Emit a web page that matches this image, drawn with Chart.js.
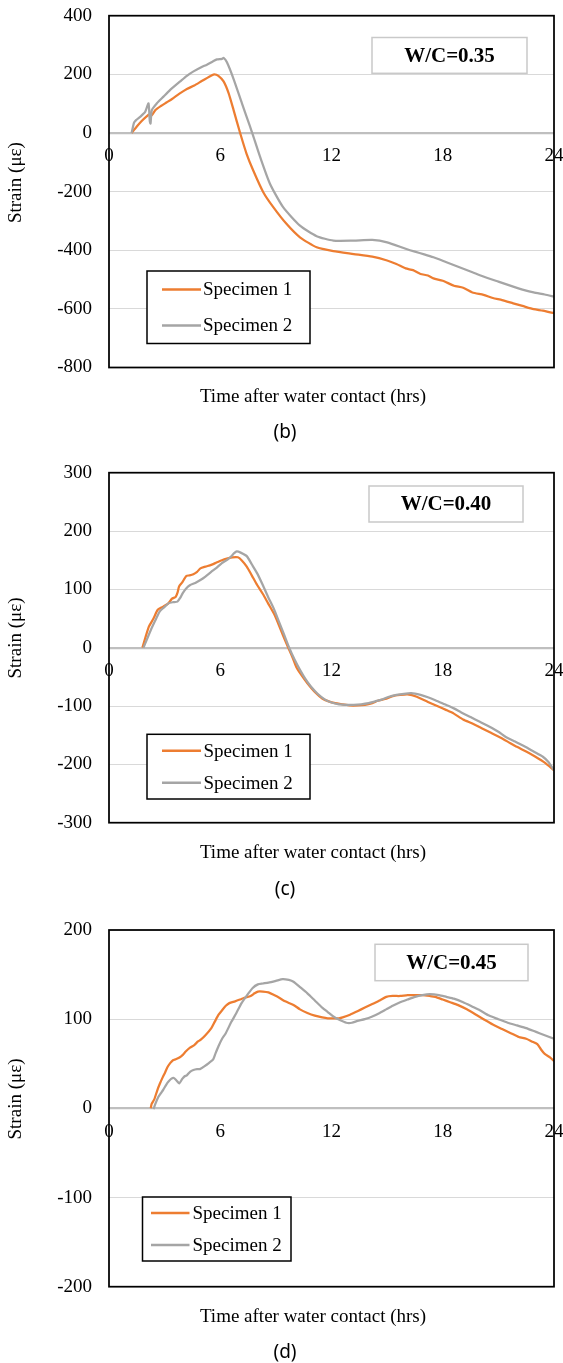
<!DOCTYPE html>
<html>
<head>
<meta charset="utf-8">
<script src="https://cdn.jsdelivr.net/npm/chart.js@4.4.0/dist/chart.umd.min.js"></script>
<style>
  html, body { margin: 0; padding: 0; background: #fff; width: 563px; height: 1363px; overflow: hidden; }
  .box { position: absolute; left: 0; width: 563px; }
  canvas { display: block; }
  .cap { position: absolute; left: 0; width: 570px; text-align: center; font-family: "Noto Sans", sans-serif; font-size: 19px; line-height: 24px; color: #000; }
</style>
</head>
<body>
<div class="box" style="top:0px;height:420px"><canvas id="cb" width="563" height="420"></canvas></div>
<div class="cap" style="top:419px">(b)</div>
<div class="box" style="top:455px;height:420px"><canvas id="cc" width="563" height="420"></canvas></div>
<div class="cap" style="top:876px">(c)</div>
<div class="box" style="top:912px;height:420px"><canvas id="cd" width="563" height="420"></canvas></div>
<div class="cap" style="top:1339px">(d)</div>
<script>
// ---------------- data ----------------
const seriesNames = ["Specimen 1", "Specimen 2"];
const xTickValues = [0, 6, 12, 18, 24];
const yTicksB = [-800, -600, -400, -200, 0, 200, 400];
const yTicksC = [-300, -200, -100, 0, 100, 200, 300];
const yTicksD = [-200, -100, 0, 100, 200];
const xTitle = "Time after water contact (hrs)";
const yTitle = "Strain (με)";
const wcLabels = ["W/C=0.35", "W/C=0.40", "W/C=0.45"];

// (b) W/C = 0.35
const timeB1 = [1.22,1.5,1.75,2.0,2.2,2.3,2.5,2.8,3.1,3.4,
  3.8,4.2,4.6,5.0,5.3,5.5,5.68,5.9,6.18,6.45,
  6.72,7.08,7.42,7.78,8.32,8.86,9.57,10.3,11.2,12.1,
  13.2,14.2,15.0,15.5,16.0,16.4,16.8,17.2,17.5,18.0,
  18.6,19.1,19.6,20.2,20.7,21.2,21.8,22.3,22.9,23.4,
  23.8,24];
const strainB1 = [0,22,40,55,64,60,78,92,104,116,
  134,150,162,177,188,195,200,195,176,136,
  78,-2,-71,-128,-202,-253,-310,-356,-390,-403,
  -413,-422,-435,-447,-462,-468,-481,-486,-496,-504,
  -521,-528,-544,-552,-563,-570,-581,-590,-601,-606,
  -612,-614];
const timeB2 = [1.22,1.35,1.46,1.68,1.95,2.13,2.2,2.24,2.31,2.58,
  2.94,3.3,3.84,4.2,4.56,5.0,5.28,5.6,5.82,6.1,
  6.18,6.36,6.72,7.17,7.6,7.75,8.14,8.68,9.39,10.3,
  11.2,12.1,13.2,14.2,15.0,16.0,16.5,17.0,17.5,18.2,
  18.9,19.6,20.3,21.0,21.8,22.4,22.9,23.5,24];
const strainB2 = [0,35,44,55,72,101,40,32,78,101,
  124,147,176,195,210,225,233,244,251,253,
  256,241,184,101,23,-5,-80,-173,-253,-316,
  -352,-367,-367,-365,-373,-395,-405,-414,-424,-441,
  -458,-475,-492,-507,-524,-536,-544,-551,-558];

// (c) W/C = 0.40
const timeC1 = [1.8,2.15,2.4,2.63,2.9,3.2,3.4,3.59,3.7,3.78,
  3.95,4.17,4.35,4.55,4.75,4.93,5.2,5.51,5.8,6.09,
  6.4,6.66,6.95,7.15,7.43,7.7,8.0,8.3,8.58,8.9,
  9.16,9.4,9.64,9.9,10.1,10.4,10.7,11.1,11.5,11.85,
  12.2,12.6,13.0,13.4,13.8,14.2,14.5,14.9,15.3,15.7,
  16.1,16.6,17.2,17.7,18.2,18.6,19.1,19.6,20.1,20.6,
  21.1,21.5,22.0,22.5,23.0,23.5,24];
const strainC1 = [0,36,50,65,70,76,84,87,95,105,
  112,123,124,126,130,136,139,142,146,150,
  153,155,155,150,139,124,107,92,76,58,
  39,20,2,-17,-33,-48,-61,-76,-87,-92,
  -95,-97,-99,-99,-98,-95,-91,-88,-83,-81,
  -80,-84,-93,-100,-107,-113,-123,-130,-138,-146,
  -154,-161,-170,-178,-187,-197,-210];
const timeC2 = [1.86,2.25,2.5,2.73,3.0,3.2,3.45,3.69,3.85,3.97,
  4.15,4.36,4.65,4.93,5.2,5.51,5.8,6.09,6.35,6.57,
  6.75,6.89,7.1,7.43,7.7,8.0,8.3,8.58,8.9,9.16,
  9.45,9.73,10.0,10.3,10.6,10.9,11.25,11.65,12.0,12.4,
  12.8,13.2,13.6,14.0,14.35,14.7,15.1,15.5,15.9,16.3,
  16.8,17.2,17.6,18.1,18.6,19.0,19.5,20.0,20.5,21.0,
  21.4,21.9,22.4,22.9,23.4,23.7,24];
const strainC2 = [0,30,47,62,70,76,78,79,86,93,
  101,107,111,116,122,130,137,145,150,156,
  162,165,163,157,143,127,107,87,66,45,
  22,-1,-20,-38,-54,-67,-79,-89,-94,-97,
  -98,-98,-97,-95,-92,-89,-84,-81,-79,-78,
  -81,-85,-90,-97,-104,-111,-119,-127,-135,-144,
  -153,-161,-169,-178,-187,-196,-210];

// (d) W/C = 0.45
const timeD1 = [2.25,2.3,2.44,2.6,2.73,2.9,3.02,3.15,3.31,3.45,
  3.6,3.8,3.98,4.15,4.37,4.6,4.8,4.95,5.2,5.52,
  5.7,5.91,6.1,6.3,6.49,6.8,7.06,7.3,7.64,7.85,
  8.03,8.3,8.6,8.9,9.18,9.5,9.95,10.3,10.7,11.1,
  11.5,11.8,12.1,12.4,12.6,13.0,13.4,13.8,14.2,14.6,
  14.95,15.3,15.7,16.1,16.5,16.9,17.3,17.6,18.0,18.4,
  18.8,19.3,19.8,20.2,20.7,21.2,21.7,22.1,22.5,22.8,
  23.1,23.3,23.5,23.8,24];
const strainD1 = [0,5,10,20,27,35,40,46,51,54,
  55,57,60,64,68,71,75,77,82,90,
  97,105,110,115,118,120,122,124,126,129,
  131,131,130,127,124,120,116,111,107,104,
  102,101,101,101,102,105,109,113,117,121,
  125,126,126,127,127,127,126,125,122,119,
  116,111,105,100,94,89,84,80,78,75,
  72,66,61,57,53];
const timeD2 = [2.4,2.5,2.64,2.8,2.93,3.1,3.21,3.35,3.5,3.65,
  3.79,3.95,4.08,4.2,4.37,4.55,4.75,4.9,5.14,5.4,
  5.62,5.75,5.91,6.1,6.29,6.6,6.87,7.15,7.45,7.75,
  8.03,8.3,8.6,9.0,9.37,9.7,9.95,10.3,10.7,11.1,
  11.5,11.8,12.1,12.45,12.8,13.1,13.4,13.8,14.2,14.6,
  14.95,15.3,15.7,16.1,16.5,16.9,17.3,17.8,18.2,18.6,
  19.1,19.6,20.0,20.5,21.0,21.5,22.0,22.5,23.0,23.5,
  24];
const strainD2 = [-1,5,12,17,21,27,30,33,34,31,
  28,33,36,37,41,43,44,44,47,51,
  55,62,70,78,84,97,107,118,127,135,
  139,140,141,143,145,144,142,136,129,121,
  113,108,103,99,96,96,98,100,103,107,
  111,115,119,122,125,127,128,127,125,123,
  119,114,110,104,100,96,93,90,86,82,
  78];

// ---------------- drawing ----------------
const SERIF = '"Liberation Serif", "Times New Roman", serif';
const ORANGE = '#ED7D31';
const GRAY = '#A5A5A5';

const decor = {
  id: 'decor',
  beforeDraw(chart) {
    const ctx = chart.ctx;
    ctx.save();
    ctx.fillStyle = '#fff';
    ctx.fillRect(0, 0, chart.width, chart.height);
    ctx.restore();
  },
  afterDraw(chart, args, o) {
    const ctx = chart.ctx, a = chart.chartArea, t = o.top;
    ctx.save();
    // plot frame
    ctx.strokeStyle = '#000';
    ctx.lineWidth = 1.75;
    ctx.strokeRect(a.left, a.top, a.right - a.left, a.bottom - a.top);
    // W/C text box
    const w = o.wc;
    ctx.fillStyle = '#fff';
    ctx.fillRect(w.x1, w.y1 - t, w.x2 - w.x1, w.y2 - w.y1);
    ctx.strokeStyle = '#c9c9c9';
    ctx.lineWidth = 1.5;
    ctx.strokeRect(w.x1, w.y1 - t, w.x2 - w.x1, w.y2 - w.y1);
    ctx.fillStyle = '#000';
    ctx.font = 'bold 21px ' + SERIF;
    ctx.textAlign = 'center';
    ctx.textBaseline = 'middle';
    ctx.fillText(o.wcText, (w.x1 + w.x2) / 2, (w.y1 + w.y2) / 2 - t + 1);
    // legend
    const L = o.legend;
    ctx.fillStyle = '#fff';
    ctx.fillRect(L.x1, L.y1 - t, L.x2 - L.x1, L.y2 - L.y1);
    ctx.strokeStyle = '#000';
    ctx.lineWidth = 1.5;
    ctx.strokeRect(L.x1, L.y1 - t, L.x2 - L.x1, L.y2 - L.y1);
    ctx.font = '19px ' + SERIF;
    ctx.textAlign = 'left';
    chart.data.datasets.forEach((ds, i) => {
      const y = L.rows[i] - t;
      ctx.strokeStyle = ds.borderColor;
      ctx.lineWidth = 2.5;
      ctx.beginPath();
      ctx.moveTo(L.sx1, y);
      ctx.lineTo(L.sx2, y);
      ctx.stroke();
      ctx.fillStyle = '#000';
      ctx.fillText(ds.label, L.tx, y + 1);
    });
    // axis titles
    ctx.font = '19px ' + SERIF;
    ctx.textAlign = 'center';
    ctx.fillStyle = '#000';
    ctx.fillText(o.xTitle, o.xt.x, o.xt.y - t);
    ctx.translate(o.yt.x, o.yt.y - t);
    ctx.rotate(-Math.PI / 2);
    ctx.fillText(o.yTitle, 0, 0);
    ctx.restore();
  }
};

function pts(xs, ys) { return xs.map((x, i) => ({ x: x, y: ys[i] })); }

function makeChart(id, cfg) {
  const H = 420;
  return new Chart(document.getElementById(id), {
    type: 'line',
    data: {
      datasets: [
        { label: seriesNames[0], data: pts(cfg.t1, cfg.s1), borderColor: ORANGE, backgroundColor: ORANGE,
          borderWidth: 2.25, pointRadius: 0, tension: 0.2, order: 1, fill: false },
        { label: seriesNames[1], data: pts(cfg.t2, cfg.s2), borderColor: GRAY, backgroundColor: GRAY,
          borderWidth: 2.25, pointRadius: 0, tension: 0.2, order: 0, fill: false }
      ]
    },
    options: {
      responsive: false,
      animation: false,
      events: [],
      layout: { padding: { left: 0, right: 9, top: cfg.areaTop - cfg.top, bottom: cfg.top + H - cfg.areaBottom } },
      plugins: {
        legend: { display: false },
        tooltip: { enabled: false },
        decor: {
          top: cfg.top, wc: cfg.wc, wcText: cfg.wcText, legend: cfg.legend,
          xTitle: xTitle, yTitle: yTitle, xt: cfg.xt, yt: cfg.yt
        }
      },
      scales: {
        x: {
          type: 'linear',
          position: { y: 0 },
          min: xTickValues[0],
          max: xTickValues[xTickValues.length - 1],
          afterBuildTicks: s => { s.ticks = xTickValues.map(v => ({ value: v })); },
          afterFit: s => { s.paddingLeft = 0; s.paddingRight = 0; s.paddingTop = 0; s.paddingBottom = 0; },
          grid: { display: false, drawTicks: false },
          border: { display: false },
          ticks: { padding: 12, color: '#000', font: { family: SERIF, size: 19 }, maxRotation: 0, autoSkip: false }
        },
        y: {
          type: 'linear',
          position: 'left',
          min: cfg.yTicks[0],
          max: cfg.yTicks[cfg.yTicks.length - 1],
          afterBuildTicks: s => { s.ticks = cfg.yTicks.map(v => ({ value: v })); },
          afterFit: s => { s.width = 109; s.paddingTop = 0; s.paddingBottom = 0; s.paddingLeft = 0; s.paddingRight = 0; },
          grid: {
            drawTicks: false,
            color: c => (c.tick && c.tick.value === 0) ? '#bfbfbf' : '#d9d9d9',
            lineWidth: c => (c.tick && c.tick.value === 0) ? 2.25 : 1
          },
          border: { display: false },
          ticks: { padding: 17, color: '#000', font: { family: SERIF, size: 19 } }
        }
      }
    },
    plugins: [decor]
  });
}

makeChart('cb', {
  top: 0, areaTop: 15.7, areaBottom: 367.5, yTicks: yTicksB,
  t1: timeB1, s1: strainB1, t2: timeB2, s2: strainB2,
  wcText: wcLabels[0], wc: { x1: 372, x2: 527, y1: 37.5, y2: 73.3 },
  legend: { x1: 147, x2: 310, y1: 271, y2: 343.5, rows: [289.5, 325.5], sx1: 162, sx2: 201, tx: 203 },
  xt: { x: 313, y: 397 }, yt: { x: 16, y: 182.6 }
});
makeChart('cc', {
  top: 455, areaTop: 472.7, areaBottom: 822.7, yTicks: yTicksC,
  t1: timeC1, s1: strainC1, t2: timeC2, s2: strainC2,
  wcText: wcLabels[1], wc: { x1: 369, x2: 523, y1: 486, y2: 522 },
  legend: { x1: 147, x2: 310, y1: 734.3, y2: 799, rows: [750.7, 782.7], sx1: 162, sx2: 201, tx: 203.5 },
  xt: { x: 313, y: 853 }, yt: { x: 16, y: 638 }
});
makeChart('cd', {
  top: 912, areaTop: 930, areaBottom: 1286.7, yTicks: yTicksD,
  t1: timeD1, s1: strainD1, t2: timeD2, s2: strainD2,
  wcText: wcLabels[2], wc: { x1: 375, x2: 528, y1: 944.3, y2: 980.7 },
  legend: { x1: 142.5, x2: 291, y1: 1197, y2: 1261, rows: [1213, 1245], sx1: 151, sx2: 189.5, tx: 192.5 },
  xt: { x: 313, y: 1317 }, yt: { x: 16, y: 1099 }
});
</script>
</body>
</html>
